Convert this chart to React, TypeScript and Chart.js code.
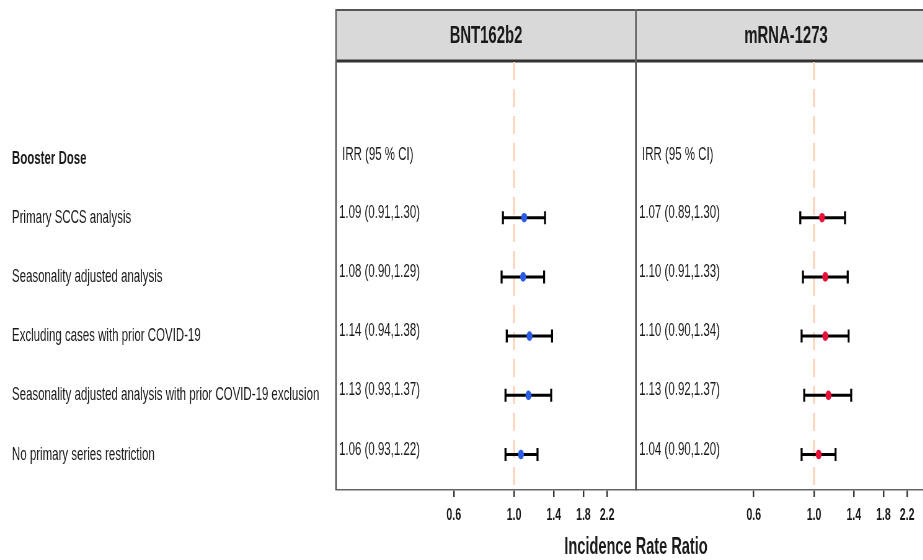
import React, { useEffect, useRef } from 'react';
import { Chart, registerables } from 'chart.js';

Chart.register(...registerables);

// ---------- data ----------
const ROW_LABELS = [
  'Booster Dose',
  'Primary SCCS analysis',
  'Seasonality adjusted analysis',
  'Excluding cases with prior COVID-19',
  'Seasonality adjusted analysis with prior COVID-19 exclusion',
  'No primary series restriction',
];
const ROWS = [1, 2, 3, 4, 5];
const PANELS = ['BNT162b2', 'mRNA-1273'];
const BNT_IRR = [1.09, 1.08, 1.14, 1.13, 1.06];
const BNT_LO = [0.91, 0.9, 0.94, 0.93, 0.93];
const BNT_HI = [1.3, 1.29, 1.38, 1.37, 1.22];
const MRNA_IRR = [1.07, 1.1, 1.1, 1.13, 1.04];
const MRNA_LO = [0.89, 0.91, 0.9, 0.92, 0.9];
const MRNA_HI = [1.3, 1.33, 1.34, 1.37, 1.2];
const X_TICKS = [0.6, 1.0, 1.4, 1.8, 2.2];
const HEADER_TEXT = 'IRR (95 % CI)';
const AXIS_TITLE = 'Incidence Rate Ratio';
const REF_VALUE = 1.0;

// ---------- style ----------
const S = 0.62; // horizontal compression of the whole figure
const CW = Math.ceil(940 / S);
const CH = 560;
const FONT = "'Liberation Sans', Arial, sans-serif";
const TEXT = '#1a1a1a';
const BLUE = '#2b5ce6';
const RED = '#e8113a';
const XMIN = 0.2213;
const XMAX = 2.81;
const TEXT_X = 0.227;
const HEAD_X = 0.233;
const STRIP_TOP = 9;
const PANEL_AXES = ['x1', 'x2'];

const fmt = (v: number) => v.toFixed(2);

const forestPlugin = {
  id: 'forest',
  beforeDraw(chart: any) {
    const { ctx, chartArea, scales } = chart;
    PANEL_AXES.forEach((id, p) => {
      const xs = scales[id];
      const L = xs.left;
      const R = xs.right;
      const top = STRIP_TOP;
      const bot = chartArea.top;
      ctx.save();
      ctx.fillStyle = '#d9d9d9';
      ctx.fillRect(L, top, R - L, bot - top);
      ctx.strokeStyle = '#555';
      ctx.lineWidth = 2;
      ctx.beginPath();
      ctx.moveTo(L, top + 1);
      ctx.lineTo(R, top + 1);
      ctx.stroke();
      ctx.strokeStyle = '#333';
      ctx.lineWidth = 3;
      ctx.beginPath();
      ctx.moveTo(L, bot - 1);
      ctx.lineTo(R, bot - 1);
      ctx.stroke();
      ctx.strokeStyle = '#666';
      ctx.lineWidth = 1.5 / S;
      ctx.beginPath();
      ctx.moveTo(L, top);
      ctx.lineTo(L, bot);
      ctx.moveTo(R, top);
      ctx.lineTo(R, bot);
      ctx.stroke();
      ctx.fillStyle = TEXT;
      ctx.font = `bold 24px ${FONT}`;
      ctx.textAlign = 'center';
      ctx.textBaseline = 'middle';
      ctx.fillText(PANELS[p], (L + R) / 2, (top + bot) / 2 + 1);
      ctx.restore();
    });
  },
  beforeDatasetsDraw(chart: any) {
    const { ctx, chartArea, scales } = chart;
    const ys = scales.y;
    // reference lines
    PANEL_AXES.forEach((id) => {
      const xs = scales[id];
      const px = xs.getPixelForValue(REF_VALUE);
      ctx.save();
      ctx.strokeStyle = '#fbd2b8';
      ctx.lineWidth = 2 / S;
      ctx.setLineDash([18, 9]);
      ctx.beginPath();
      ctx.moveTo(px, chartArea.top);
      ctx.lineTo(px, chartArea.bottom);
      ctx.stroke();
      ctx.restore();
    });
    // error bars
    chart.data.datasets.forEach((ds: any, i: number) => {
      const meta = chart.getDatasetMeta(i);
      const xs = meta.xScale;
      ds.data.forEach((pt: any, j: number) => {
        const py = ys.getPixelForValue(pt.y);
        const x0 = xs.getPixelForValue(ds.lo[j]);
        const x1 = xs.getPixelForValue(ds.hi[j]);
        ctx.save();
        ctx.strokeStyle = '#000';
        ctx.lineWidth = 3;
        ctx.beginPath();
        ctx.moveTo(x0, py);
        ctx.lineTo(x1, py);
        ctx.stroke();
        ctx.lineWidth = 2 / S;
        ctx.beginPath();
        ctx.moveTo(x0, py - 6.5);
        ctx.lineTo(x0, py + 6.5);
        ctx.moveTo(x1, py - 6.5);
        ctx.lineTo(x1, py + 6.5);
        ctx.stroke();
        ctx.restore();
      });
    });
  },
  afterDatasetsDraw(chart: any) {
    const { ctx, scales } = chart;
    const ys = scales.y;
    chart.data.datasets.forEach((ds: any, i: number) => {
      const meta = chart.getDatasetMeta(i);
      const xs = meta.xScale;
      ctx.save();
      ctx.fillStyle = TEXT;
      ctx.font = `18.5px ${FONT}`;
      ctx.textAlign = 'left';
      ctx.textBaseline = 'middle';
      ctx.fillText(HEADER_TEXT, xs.getPixelForValue(HEAD_X), ys.getPixelForValue(0) - 4);
      ds.data.forEach((pt: any, j: number) => {
        const label = `${fmt(pt.x)} (${fmt(ds.lo[j])},${fmt(ds.hi[j])})`;
        ctx.fillText(label, xs.getPixelForValue(TEXT_X), ys.getPixelForValue(pt.y) - 5);
      });
      ctx.restore();
    });
  },
  afterDraw(chart: any) {
    const { ctx, chartArea, scales } = chart;
    ctx.save();
    ctx.strokeStyle = '#555';
    ctx.lineWidth = 1.5 / S;
    PANEL_AXES.forEach((id) => {
      const xs = scales[id];
      ctx.beginPath();
      ctx.moveTo(xs.left, chartArea.top);
      ctx.lineTo(xs.left, chartArea.bottom);
      ctx.moveTo(xs.right, chartArea.top);
      ctx.lineTo(xs.right, chartArea.bottom);
      ctx.stroke();
    });
    ctx.fillStyle = TEXT;
    ctx.font = `bold 23.5px ${FONT}`;
    ctx.textAlign = 'center';
    ctx.textBaseline = 'middle';
    ctx.fillText(AXIS_TITLE, scales.x1.right, 548);
    ctx.restore();
  },
};

const xAxis = () => ({
  type: 'logarithmic',
  position: 'bottom',
  stack: 'panels',
  stackWeight: 1,
  min: XMIN,
  max: XMAX,
  bounds: 'data',
  offset: false,
  afterBuildTicks: (s: any) => {
    s.ticks = X_TICKS.map((v) => ({ value: v }));
  },
  afterFit: (s: any) => {
    s.height = 70;
  },
  grid: {
    display: true,
    drawOnChartArea: false,
    drawTicks: true,
    tickLength: 7,
    color: '#333',
    lineWidth: 1.5 / S,
  },
  border: { display: true, color: '#666', width: 1.5 },
  ticks: {
    autoSkip: false,
    maxRotation: 0,
    minRotation: 0,
    padding: 8,
    color: TEXT,
    font: { family: FONT, size: 17, weight: 'bold' },
    callback: (v: any) => Number(v).toFixed(1),
  },
});

export default function App() {
  const ref = useRef<HTMLCanvasElement | null>(null);

  useEffect(() => {
    document.body.style.margin = '0';
    const canvas = ref.current;
    if (!canvas) return;
    const chart = new Chart(canvas, {
      type: 'scatter',
      data: {
        datasets: [
          {
            label: PANELS[0],
            data: ROWS.map((r, i) => ({ x: BNT_IRR[i], y: r })),
            xAxisID: 'x1',
            yAxisID: 'y',
            pointRadius: 4.8,
            pointBackgroundColor: BLUE,
            pointBorderWidth: 0,
            lo: BNT_LO,
            hi: BNT_HI,
          } as any,
          {
            label: PANELS[1],
            data: ROWS.map((r, i) => ({ x: MRNA_IRR[i], y: r })),
            xAxisID: 'x2',
            yAxisID: 'y',
            pointRadius: 4.8,
            pointBackgroundColor: RED,
            pointBorderWidth: 0,
            lo: MRNA_LO,
            hi: MRNA_HI,
          } as any,
        ],
      },
      options: {
        responsive: false,
        animation: false,
        devicePixelRatio: 1,
        events: [],
        layout: {
          padding: { left: 12 / S, top: 62, right: CW - 936 / S, bottom: 0 },
        },
        plugins: {
          legend: { display: false },
          tooltip: { enabled: false },
          title: { display: false },
        },
        scales: {
          x1: xAxis() as any,
          x2: xAxis() as any,
          y: {
            type: 'linear',
            reverse: true,
            min: -1.63,
            max: 5.6,
            bounds: 'data',
            afterBuildTicks: (s: any) => {
              s.ticks = ROW_LABELS.map((_, i) => ({ value: i }));
            },
            afterFit: (s: any) => {
              s.width = (336 - 12) / S;
            },
            grid: { display: false },
            border: { display: false },
            ticks: {
              autoSkip: false,
              crossAlign: 'far',
              padding: 0,
              color: TEXT,
              font: (c: any) => ({
                family: FONT,
                size: 18.5,
                weight: c.index === 0 ? 'bold' : 'normal',
              }),
              callback: (v: any) => ROW_LABELS[Number(v)] ?? '',
            },
          } as any,
        },
      },
      plugins: [forestPlugin],
    });
    return () => chart.destroy();
  }, []);

  return (
    <div style={{ width: 923, height: CH, overflow: 'hidden', position: 'relative', background: '#fff' }}>
      <canvas
        ref={ref}
        width={CW}
        height={CH}
        style={{ transform: `scaleX(${S})`, transformOrigin: '0 0', display: 'block' }}
      />
    </div>
  );
}
